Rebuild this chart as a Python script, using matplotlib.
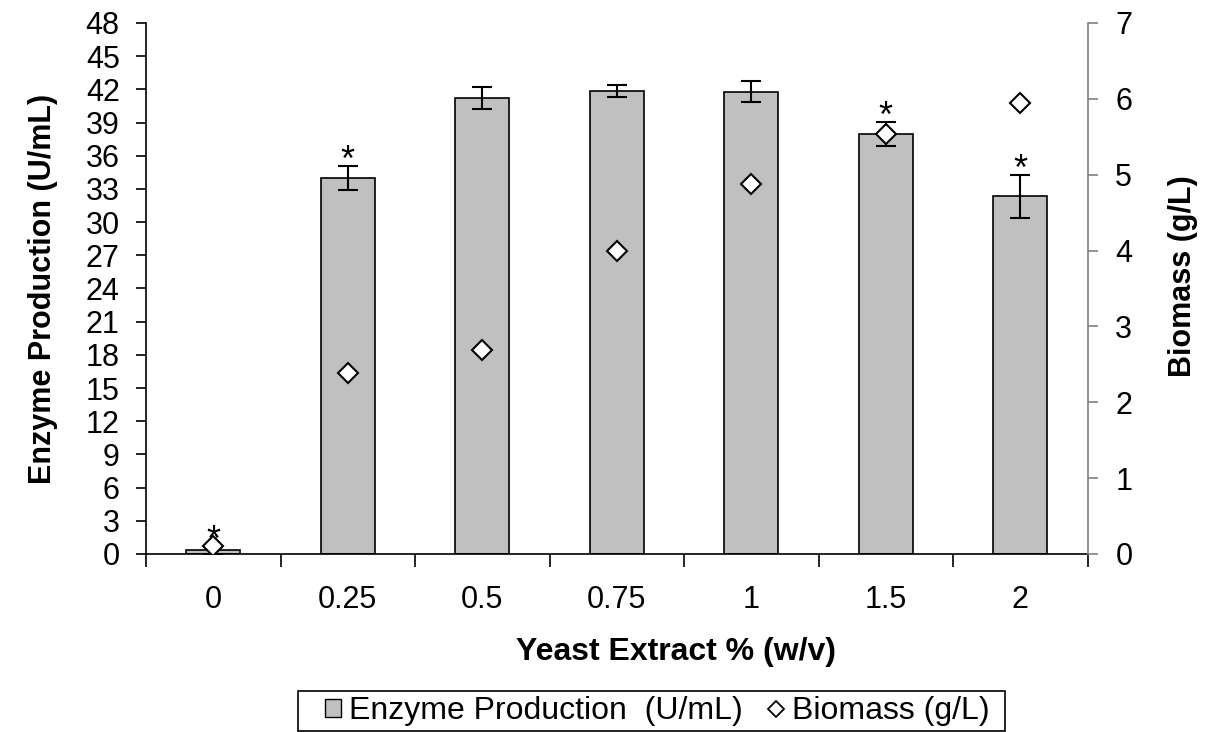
import matplotlib.pyplot as plt
from matplotlib.patches import Patch, Rectangle
from matplotlib.lines import Line2D
import numpy as np

plt.rcParams['font.family'] = ['Liberation Sans', 'DejaVu Sans']

# dados
yeast_labels = ['0', '0.25', '0.5', '0.75', '1', '1.5', '2']
enzyme = [0.33, 34.0, 41.2, 41.85, 41.8, 38.0, 32.35]
enzyme_err = [0.3, 1.1, 1.0, 0.55, 0.95, 1.08, 1.95]
biomass = [0.105, 2.38, 2.69, 4.0, 4.88, 5.54, 5.94]
significant = [True, True, False, False, False, True, True]

x = np.arange(len(yeast_labels))

fig = plt.figure(figsize=(12.07, 7.32), dpi=100)
ax = fig.add_axes([0.121, 0.2432, 0.780, 0.7254])

ax.bar(x, enzyme, width=0.4, color='#c0c0c0', edgecolor='black',
       linewidth=1.2, zorder=2)
ax.errorbar(x, enzyme, yerr=enzyme_err, fmt='none', ecolor='black',
            elinewidth=1.5, capsize=7.5, capthick=1.5, zorder=3)

# asteriscos de significancia
for xi, v, e, s in zip(x, enzyme, enzyme_err, significant):
    if s:
        top = max(v + e, 0.72 if xi == 0 else 0)
        ax.annotate('*', (xi, top), xytext=(0, 3), textcoords='offset points',
                    ha='center', va='center', fontsize=26, zorder=5)

ax.set_xlim(-0.5, len(yeast_labels) - 0.5)
ax.set_ylim(0, 48)
ax.set_yticks(np.arange(0, 49, 3))
ax.set_xticks(x)
ax.set_xticklabels(yeast_labels)
ax.set_xticks(np.arange(-0.5, len(yeast_labels), 1), minor=True)
ax.tick_params(axis='x', which='major', length=0, pad=22, labelsize=22)
ax.tick_params(axis='x', which='minor', length=9, width=1.2, direction='out')
ax.tick_params(axis='y', length=7, width=1.2, direction='out', labelsize=22, pad=12)
ax.spines['top'].set_visible(False)
ax.spines['right'].set_visible(False)
for sp in ['left', 'bottom']:
    ax.spines[sp].set_linewidth(1.2)

ax.set_xlabel('Yeast Extract % (w/v)', fontsize=23, fontweight='bold')
ax.xaxis.set_label_coords(0.5634, -0.156)
ax.set_ylabel('Enzyme Production (U/mL)', fontsize=22, fontweight='bold', labelpad=20)

ax2 = ax.twinx()
ax2.plot(x, biomass, linestyle='none', marker='D', markersize=10,
         markerfacecolor='white', markeredgecolor='black', markeredgewidth=1.5,
         zorder=4)
ax2.set_ylim(0, 7)
ax2.set_yticks(np.arange(0, 8, 1))
ax2.tick_params(axis='y', length=7, width=1.2, color='#808080', direction='out',
                labelsize=22, pad=13)
for sp in ['top', 'left', 'bottom']:
    ax2.spines[sp].set_visible(False)
ax2.spines['right'].set_color('#808080')
ax2.spines['right'].set_linewidth(1.2)
ax2.set_ylabel('Biomass (g/L)', fontsize=22, fontweight='bold')
ax2.yaxis.set_label_coords(1.086, 0.5226)

# legenda (moldura desenhada a parte)
handles = [Patch(facecolor='#c0c0c0', edgecolor='black', linewidth=1),
           Line2D([], [], linestyle='none', marker='D', markersize=8.5,
                  markerfacecolor='white', markeredgecolor='black',
                  markeredgewidth=1.3)]
fig.legend(handles, ['Enzyme Production  (U/mL)', 'Biomass (g/L)'],
           loc='center', bbox_to_anchor=(0.5443, 0.0287), ncol=2, fontsize=23,
           frameon=False, handlelength=0.5, handleheight=0.5, handletextpad=0.25,
           columnspacing=0.8, borderpad=0, borderaxespad=0)
fig.add_artist(Rectangle((0.2469, 0.0014), 0.5857, 0.0546, transform=fig.transFigure,
                         facecolor='none', edgecolor='black', linewidth=1.2))

fig.savefig('out.png', dpi=100)
